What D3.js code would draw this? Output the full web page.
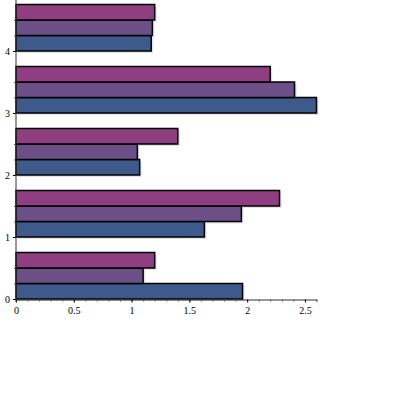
<!DOCTYPE html>
<html>
<head>
<meta charset="utf-8">
<script src="https://cdn.jsdelivr.net/npm/d3@7"></script>
<style>
  body { margin: 0; background: #fff; }
  svg { display: block; }
</style>
</head>
<body>
<div id="chart"></div>
<script>
// groups along the vertical axis, three series per group
var categories = [0, 1, 2, 3, 4];
var seriesNames = ["blue", "purple", "pink"];
var blueValues   = [1.96, 1.63, 1.07, 2.60, 1.17];
var purpleValues = [1.10, 1.95, 1.05, 2.41, 1.18];
var pinkValues   = [1.20, 2.28, 1.40, 2.20, 1.20];
var xTicks = [0, 0.5, 1, 1.5, 2, 2.5];
var colors = ["#3d5a8b", "#6d4f87", "#8f3f81"];

var allSeries = [blueValues, purpleValues, pinkValues];

var svg = d3.select("#chart").append("svg")
    .attr("width", 395).attr("height", 395);

var x = d3.scaleLinear()
    .domain([0, d3.max(blueValues)])
    .range([16, 316.5]);

// one category unit = 62px, bars fill 3/4 of it
var y = d3.scaleLinear()
    .domain([0, 4])
    .range([299, 51]);

var barH = 0.25;

var rows = [];
categories.forEach(function(c, i) {
    allSeries.forEach(function(s, j) {
        rows.push({ cat: c, k: j, v: s[i] });
    });
});

var bars = svg.append("g");

// soft drop shadow
bars.selectAll("rect.shadow")
    .data(rows)
    .enter().append("rect")
    .attr("class", "shadow")
    .attr("x", x(0) + 2)
    .attr("y", function(d) { return y(d.cat + (d.k + 1) * barH) + 2; })
    .attr("width", function(d) { return x(d.v) - x(0); })
    .attr("height", function(d) { return y(d.cat) - y(d.cat + barH); })
    .attr("fill", "#e2e2e2");

bars.selectAll("rect.bar")
    .data(rows)
    .enter().append("rect")
    .attr("class", "bar")
    .attr("x", x(0))
    .attr("y", function(d) { return y(d.cat + (d.k + 1) * barH); })
    .attr("width", function(d) { return x(d.v) - x(0); })
    .attr("height", function(d) { return y(d.cat) - y(d.cat + barH); })
    .attr("fill", function(d) { return colors[d.k]; })
    .attr("stroke", "#000")
    .attr("stroke-width", 1.5);

// x axis
var xMinor = d3.range(0, 2.61, 0.1);
svg.append("g")
    .attr("transform", "translate(0,299.5)")
    .call(d3.axisBottom(x).tickValues(xMinor).tickSize(2).tickFormat(""))
    .call(function(g) { g.select(".domain").attr("stroke", "#333"); g.selectAll(".tick line").attr("stroke", "#555"); });

var xAxis = svg.append("g")
    .attr("transform", "translate(0,299.5)")
    .call(d3.axisBottom(x).tickValues(xTicks).tickSize(3).tickPadding(4).tickFormat(d3.format("")));
xAxis.select(".domain").remove();
xAxis.selectAll("text")
    .attr("font-family", "Liberation Serif, Times New Roman, serif")
    .attr("font-size", 10)
    .attr("fill", "#000");

// y axis
var yMinor = [];
categories.forEach(function(c) { yMinor.push(c + 0.25, c + 0.5); });
svg.append("g")
    .attr("transform", "translate(16,0)")
    .call(d3.axisLeft(y).tickValues(yMinor).tickSize(2).tickFormat(""))
    .call(function(g) { g.select(".domain").remove(); g.selectAll(".tick line").attr("stroke", "#555"); });

var yAxis = svg.append("g")
    .attr("transform", "translate(16,0)")
    .call(d3.axisLeft(y).tickValues(categories).tickSize(3).tickPadding(3).tickFormat(d3.format("d")));
yAxis.select(".domain").remove();
yAxis.selectAll("text")
    .attr("font-family", "Liberation Serif, Times New Roman, serif")
    .attr("font-size", 10)
    .attr("fill", "#000");

svg.append("line")
    .attr("x1", 16).attr("x2", 16)
    .attr("y1", 0).attr("y2", 302)
    .attr("stroke", "#333");
</script>
</body>
</html>
